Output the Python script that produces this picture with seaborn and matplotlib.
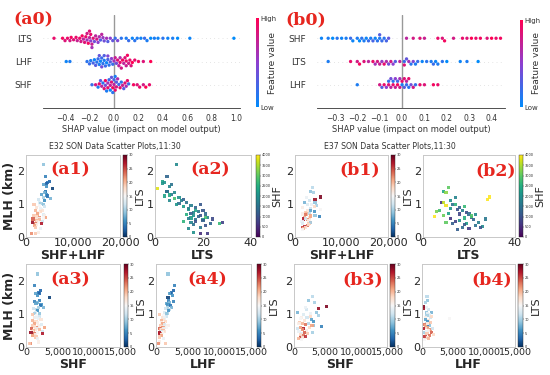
import numpy as np
import pandas as pd
import seaborn as sns
import matplotlib.pyplot as plt
from matplotlib.colors import LinearSegmentedColormap, Normalize
from matplotlib.cm import ScalarMappable

W, H = 550, 375
RED = "#e6261f"

e32_lts_shap = [-0.49, -0.42, -0.40, -0.38, -0.36, -0.35, -0.33, -0.31, -0.30, -0.28,
                -0.27, -0.26, -0.25, -0.24, -0.23, -0.22, -0.22, -0.21, -0.20, -0.20,
                -0.19, -0.19, -0.18, -0.18, -0.17, -0.16, -0.15, -0.14, -0.13, -0.12,
                -0.11, -0.10, -0.09, -0.08, -0.06, -0.05, -0.03, -0.01, 0.01, 0.03,
                0.06, 0.10, 0.12, 0.15, 0.17, 0.19, 0.22, 0.25, 0.27, 0.30,
                0.33, 0.36, 0.40, 0.44, 0.48, 0.52, 0.62, 0.98]
e32_lts_val = [0.9, 0.95, 0.85, 0.9, 0.8, 0.95, 0.85, 0.9, 0.75, 0.9,
               0.8, 0.95, 0.7, 0.85, 0.9, 0.6, 0.8, 0.95, 0.7, 0.85,
               0.5, 0.9, 0.75, 0.6, 0.85, 0.4, 0.7, 0.8, 0.5, 0.65,
               0.3, 0.7, 0.55, 0.4, 0.6, 0.3, 0.5, 0.35, 0.2, 0.45,
               0.15, 0.1, 0.2, 0.05, 0.15, 0.1, 0.05, 0.2, 0.1, 0.0,
               0.1, 0.05, 0.15, 0.05, 0.1, 0.0, 0.05, 0.0]
e32_lhf_shap = [-0.39, -0.36, -0.22, -0.20, -0.19, -0.17, -0.16, -0.15, -0.14, -0.13,
                -0.12, -0.12, -0.11, -0.10, -0.10, -0.09, -0.08, -0.08, -0.07, -0.06,
                -0.05, -0.05, -0.04, -0.03, -0.02, -0.01, 0.00, 0.01, 0.02, 0.03,
                0.04, 0.05, 0.05, 0.06, 0.07, 0.08, 0.09, 0.10, 0.10, 0.11,
                0.12, 0.13, 0.14, 0.15, 0.17, 0.20, 0.24, 0.30]
e32_lhf_val = [0.05, 0.1, 0.15, 0.2, 0.1, 0.25, 0.05, 0.3, 0.15, 0.2,
               0.1, 0.35, 0.05, 0.2, 0.4, 0.15, 0.1, 0.3, 0.2, 0.05,
               0.25, 0.45, 0.15, 0.3, 0.5, 0.2, 0.6, 0.75, 0.4, 0.85,
               0.7, 0.9, 0.65, 0.8, 0.95, 0.7, 0.85, 0.9, 0.75, 0.95,
               0.8, 0.9, 0.85, 1.0, 0.9, 0.95, 0.85, 1.0]
e32_shf_shap = [-0.18, -0.15, -0.13, -0.12, -0.11, -0.10, -0.09, -0.08, -0.07, -0.07,
                -0.06, -0.05, -0.05, -0.04, -0.03, -0.03, -0.02, -0.02, -0.01, -0.01,
                0.00, 0.00, 0.01, 0.01, 0.02, 0.02, 0.03, 0.04, 0.05, 0.06,
                0.07, 0.08, 0.09, 0.10, 0.11, 0.12, 0.16, 0.19, 0.21, 0.24,
                0.26, 0.29]
e32_shf_val = [0.2, 0.8, 0.1, 0.9, 0.3, 0.7, 0.15, 0.85, 0.4, 0.95,
               0.1, 0.6, 0.9, 0.2, 0.75, 0.05, 0.85, 0.35, 0.95, 0.15,
               0.7, 0.25, 0.9, 0.1, 0.8, 0.3, 0.65, 0.2, 0.9, 0.15,
               0.75, 0.3, 0.85, 0.6, 0.9, 0.2, 0.95, 0.85, 0.9, 0.8,
               1.0, 0.9]

e37_shf_shap = [-0.36, -0.33, -0.31, -0.29, -0.27, -0.25, -0.23, -0.22, -0.20, -0.19,
                -0.18, -0.17, -0.16, -0.15, -0.14, -0.13, -0.12, -0.11, -0.10, -0.10,
                -0.09, -0.08, -0.07, -0.06, 0.02, 0.05, 0.08, 0.10, 0.16, 0.18,
                0.19, 0.23, 0.27, 0.29, 0.31, 0.33, 0.35, 0.38, 0.40, 0.42,
                0.44]
e37_shf_val = [0.05, 0.1, 0.0, 0.15, 0.05, 0.1, 0.2, 0.05, 0.1, 0.0,
               0.15, 0.1, 0.05, 0.2, 0.1, 0.25, 0.05, 0.15, 0.1, 0.3,
               0.2, 0.15, 0.25, 0.35, 0.7, 0.8, 0.85, 0.75, 0.9, 0.85,
               0.95, 0.8, 0.9, 0.85, 1.0, 0.9, 0.95, 0.85, 1.0, 0.9,
               0.95]
e37_lts_shap = [-0.33, -0.23, -0.20, -0.19, -0.17, -0.15, -0.13, -0.12, -0.11, -0.10,
                -0.09, -0.08, -0.07, -0.06, -0.05, -0.04, -0.03, -0.01, 0.01, 0.01,
                0.02, 0.03, 0.04, 0.05, 0.06, 0.07, 0.09, 0.11, 0.13, 0.14,
                0.15, 0.16, 0.18, 0.20, 0.26, 0.29, 0.34]
e37_lts_val = [0.1, 0.9, 0.8, 0.95, 0.85, 0.7, 0.9, 0.6, 0.8, 0.75,
               0.55, 0.9, 0.65, 0.4, 0.8, 0.5, 0.3, 0.7, 0.2, 0.85,
               0.35, 0.6, 0.15, 0.45, 0.1, 0.2, 0.05, 0.15, 0.1, 0.2,
               0.05, 0.1, 0.15, 0.0, 0.05, 0.1, 0.0]
e37_lhf_shap = [-0.20, -0.10, -0.09, -0.08, -0.07, -0.06, -0.06, -0.05, -0.05, -0.04,
                -0.04, -0.03, -0.03, -0.02, -0.02, -0.01, -0.01, 0.00, 0.00, 0.01,
                0.01, 0.02, 0.02, 0.03, 0.03, 0.04, 0.05, 0.06, 0.08, 0.10,
                0.14, 0.16]
e37_lhf_val = [0.1, 0.8, 0.3, 0.9, 0.5, 0.85, 0.2, 0.7, 0.4, 0.9,
               0.15, 0.75, 0.5, 0.95, 0.25, 0.8, 0.6, 0.1, 0.9, 0.3,
               0.85, 0.2, 0.7, 0.15, 0.9, 0.4, 0.8, 0.2, 0.9, 0.85,
               0.95, 0.9]

# scatter data, E32 and E37 (MLH km, SHF, LHF, LTS)
e32_mlh = [2.20, 1.85, 1.70, 1.65, 1.62, 1.60, 1.55, 1.48, 1.40, 1.38,
           1.35, 1.30, 1.28, 1.25, 1.20, 1.18, 1.15, 1.12, 1.10, 1.05,
           1.02, 1.00, 0.98, 0.95, 0.92, 0.90, 0.88, 0.85, 0.82, 0.80,
           0.78, 0.75, 0.72, 0.70, 0.68, 0.66, 0.65, 0.62, 0.60, 0.60,
           0.58, 0.57, 0.55, 0.53, 0.52, 0.50, 0.48, 0.47, 0.45, 0.43,
           0.42, 0.40, 0.38, 0.35, 0.30, 0.25, 0.15, 0.10, 0.10]
e32_shf = [1900, 1300, 2300, 2000, 2100, 1500, 1800, 3800, 2200, 1400,
           1900, 1600, 2400, 2300, 2000, 2800, 1200, 1700, 1900, 1500,
           1400, 2100, 1100, 1700, 2200, 1300, 1600, 2000, 2400, 1100,
           1600, 1900, 1200, 1400, 2500, 2000, 1000, 1300, 1800, 2900,
           2200, 1700, 900, 2100, 1500, 1200, 2600, 1000, 800, 1800,
           1300, 2700, 1500, 1000, 1600, 1900, 2000, 700, 500]
e32_lhf = [1900, 2900, 2700, 2500, 2300, 2200, 2600, 1900, 2000, 2800,
           2100, 1700, 1900, 2300, 1800, 2500, 1500, 2200, 2000, 1400,
           1800, 1600, 600, 1200, 1700, 1000, 1400, 1300, 1100, 900,
           1500, 800, 1300, 1100, 1300, 1900, 700, 900, 1000, 1300,
           1600, 1200, 600, 700, 800, 1100, 900, 1400, 500, 1000,
           700, 600, 800, 900, 500, 1200, 600, 400, 1500]
e32_lts = [9, 5, 3, 4, 3, 7, 6, 1, 5, 5,
           8, 7, 6, 4, 10, 8, 12, 11, 6, 13,
           10, 9, 19, 15, 12, 17, 14, 14, 17, 20,
           18, 16, 15, 21, 13, 16, 19, 18, 22, 21,
           15, 14, 24, 20, 17, 20, 12, 17, 28, 15,
           23, 27, 16, 21, 19, 14, 16, 22, 19]

e37_mlh = [1.52, 1.40, 1.35, 1.22, 1.15, 1.12, 1.05, 1.05, 1.00, 0.98,
           0.95, 0.90, 0.88, 0.85, 0.82, 0.80, 0.78, 0.75, 0.72, 0.70,
           0.68, 0.65, 0.62, 0.60, 0.58, 0.55, 0.52, 0.50, 0.48, 0.45,
           0.42, 0.40, 0.35, 0.32, 0.30, 0.28, 0.25, 0.22, 1.20, 0.92,
           0.64, 0.57, 0.45, 0.38, 0.70]
e37_shf = [3000, 2400, 3300, 5200, 4000, 2000, 600, 3600, 2600, 1500,
           3900, 1200, 2100, 1000, 2800, 1700, 3200, 900, 2300, 1400,
           1900, 3100, 4500, 1100, 2500, 1600, 1300, 2000, 800, 1700,
           1200, 2200, 1500, 1900, 1000, 1400, 700, 1200, 1800, 2700,
           2900, 600, 3000, 1100, 800]
e37_lhf = [800, 900, 600, 250, 300, 1100, 1500, 700, 900, 1200,
           800, 500, 1300, 4500, 600, 1000, 900, 1400, 700, 1100,
           400, 1200, 800, 900, 600, 300, 1300, 1000, 700, 1600,
           500, 800, 1200, 200, 600, 900, 1100, 400, 700, 1500,
           500, 1700, 300, 1800, 900]
e37_lts = [11, 9, 10, 29, 28, 12, 8, 9, 14, 13,
           10, 16, 12, 15, 7, 17, 6, 19, 11, 20,
           23, 9, 5, 21, 18, 27, 22, 16, 14, 24,
           13, 19, 23, 26, 25, 17, 20, 15, 14, 18,
           21, 12, 10, 18, 16]

flux_ticks = [0, 10000, 20000]
flux_labels = ["0", "10,000", "20,000"]
single_ticks = [0, 5000, 10000, 15000]
single_labels = ["0", "5,000", "10,000", "15,000"]
lts_ticks = [0, 20, 40]

sns.set_style("white")
plt.rcParams["font.family"] = ["DejaVu Sans"]

shap_cmap = LinearSegmentedColormap.from_list("shap", ["#008bfb", "#8e3fcf", "#ff0052"])

fig = plt.figure(figsize=(W / 100, H / 100), dpi=100)


def add_px(l, t, r, b):
    return fig.add_axes([l / W, 1 - b / H, (r - l) / W, (b - t) / H])


def tag(x, y, s):
    fig.text(x / W, 1 - y / H, s, color=RED, fontsize=12.5, fontweight="bold",
             family="DejaVu Serif", ha="center", va="center")


def shap_panel(box, cbox, feats, shaps, vals, xlim, xticks):
    ax = add_px(*box)
    df = pd.concat([pd.DataFrame({"feature": f, "shap": s, "value": v})
                    for f, s, v in zip(feats, shaps, vals)], ignore_index=True)
    sns.swarmplot(data=df, x="shap", y="feature", hue="value", order=feats,
                  palette=shap_cmap, hue_norm=(0, 1), size=2.4, linewidth=0,
                  legend=False, ax=ax)
    ax.axvline(0, color="#999999", lw=1, zorder=-1)
    for i in range(len(feats)):
        ax.axhline(i, color="#cccccc", lw=0.5, dashes=(1, 5), zorder=-1)
    ax.set_xlim(*xlim)
    ax.set_ylim(3, -1)
    ax.set_xticks(xticks)
    ax.set_xticklabels([f"{t:.1f}".replace("-", "\u2212") for t in xticks])
    ax.set_xlabel("SHAP value (impact on model output)", fontsize=6, color="#333333", labelpad=1.5)
    ax.set_ylabel("")
    for sp in ["top", "right", "left"]:
        ax.spines[sp].set_visible(False)
    ax.spines["bottom"].set_color("#333333")
    ax.spines["bottom"].set_linewidth(0.6)
    ax.tick_params(axis="x", labelsize=5.5, length=2.5, width=0.5, pad=1.5, colors="#333333")
    ax.tick_params(axis="y", labelsize=6.5, length=0, pad=8, colors="#333333")
    cax = add_px(*cbox)
    cb = fig.colorbar(ScalarMappable(Normalize(0, 1), shap_cmap), cax=cax, ticks=[0, 1])
    cb.set_ticklabels(["Low", "High"])
    cb.outline.set_visible(False)
    cb.ax.tick_params(labelsize=5, length=0, pad=1.5, colors="#333333")
    cb.set_label("Feature value", fontsize=6.5, color="#333333", labelpad=-6)


def scatter_panel(box, cbox, x, y, c, cmap, vmax, cticks, xmax, xticks, xlabels,
                  xlabel, ylabel=None, clabel=None, xsize=8):
    ax = add_px(*box)
    df = pd.DataFrame({"x": x, "y": y, "c": c})
    sns.scatterplot(data=df, x="x", y="y", hue="c", palette=cmap, hue_norm=(0, vmax),
                    marker="s", s=5, linewidth=0, alpha=0.9, legend=False, ax=ax)
    ax.set_xlim(0, xmax)
    ax.set_ylim(0, 2.5)
    ax.set_xticks(xticks)
    ax.set_xticklabels(xlabels)
    ax.set_yticks([0, 1, 2])
    ax.set_yticklabels(["0", "1", "2"])
    ax.tick_params(labelsize=8, length=0, pad=1)
    ax.tick_params(axis="x", labelsize=xsize)
    for sp in ax.spines.values():
        sp.set_color("#c8c8c8")
        sp.set_linewidth(0.7)
    ax.set_xlabel(xlabel, fontsize=9, fontweight="bold", labelpad=0.5)
    if ylabel == "MLH (km)":
        ax.set_ylabel(ylabel, fontsize=9, fontweight="bold", labelpad=1)
    elif ylabel:
        ax.set_ylabel(ylabel, fontsize=8, labelpad=1)
    else:
        ax.set_ylabel("")
    cax = add_px(*cbox)
    cb = fig.colorbar(ScalarMappable(Normalize(0, vmax), cmap), cax=cax, ticks=cticks)
    cb.outline.set_linewidth(0.3)
    cb.ax.tick_params(labelsize=2.5, length=1, width=0.3, pad=0.5)
    if clabel:
        cb.set_label(clabel, fontsize=8, labelpad=1)
    return ax


# top row: SHAP summaries
shap_panel((43, 15, 240, 108), (256, 18, 258.5, 107), ["LTS", "LHF", "SHF"],
           [e32_lts_shap, e32_lhf_shap, e32_shf_shap],
           [e32_lts_val, e32_lhf_val, e32_shf_val],
           (-0.58, 1.03), [-0.4, -0.2, 0.0, 0.2, 0.4, 0.6, 0.8, 1.0])
shap_panel((317, 15, 505, 108), (520, 20, 522.5, 107), ["SHF", "LTS", "LHF"],
           [e37_shf_shap, e37_lts_shap, e37_lhf_shap],
           [e37_shf_val, e37_lts_val, e37_lhf_val],
           (-0.38, 0.46), [-0.3, -0.2, -0.1, 0.0, 0.1, 0.2, 0.3, 0.4])

# scatter panels
e32_sum = [a + b for a, b in zip(e32_shf, e32_lhf)]
e37_sum = [a + b for a, b in zip(e37_shf, e37_lhf)]
rdbu_ticks = [0, 5, 10, 15, 20, 25, 30]
vir_ticks = list(range(0, 4001, 500))

scatter_panel((26, 155, 120, 237), (123, 155, 127, 237), e32_sum, e32_mlh, e32_lts,
              "RdBu_r", 30, rdbu_ticks, 20000, flux_ticks, flux_labels, "SHF+LHF", "MLH (km)")
scatter_panel((155, 155, 251, 237), (256, 155, 260, 237), e32_lts, e32_mlh, e32_shf,
              "viridis", 4000, vir_ticks, 40, lts_ticks, ["0", "20", "40"], "LTS", "LTS", "SHF")
scatter_panel((295, 155, 388, 237), (391, 155, 395, 237), e37_sum, e37_mlh, e37_lts,
              "RdBu_r", 30, rdbu_ticks, 20000, flux_ticks, flux_labels, "SHF+LHF")
scatter_panel((423, 155, 515, 237), (519, 155, 523, 237), e37_lts, e37_mlh, e37_shf,
              "viridis", 4000, vir_ticks, 40, lts_ticks, ["0", "20", "40"], "LTS", "LTS", "SHF")

scatter_panel((26, 264, 120, 347), (124, 264, 128, 347), e32_shf, e32_mlh, e32_lts,
              "RdBu_r", 30, rdbu_ticks, 15000, single_ticks, single_labels, "SHF", "MLH (km)", "LTS", 6.8)
scatter_panel((156, 264, 251, 347), (257, 264, 261, 347), e32_lhf, e32_mlh, e32_lts,
              "RdBu_r", 30, rdbu_ticks, 15000, single_ticks, single_labels, "LHF", None, "LTS", 6.8)
scatter_panel((294, 264, 387, 347), (390, 264, 395, 347), e37_shf, e37_mlh, e37_lts,
              "RdBu_r", 30, rdbu_ticks, 15000, single_ticks, single_labels, "SHF", None, "LTS", 6.8)
scatter_panel((422, 264, 515, 347), (518, 264, 523, 347), e37_lhf, e37_mlh, e37_lts,
              "RdBu_r", 30, rdbu_ticks, 15000, single_ticks, single_labels, "LHF", None, "LTS", 6.8)

fig.text(115 / W, 1 - 146 / H, "E32 SON Data Scatter Plots,11:30", fontsize=5.6,
         color="#333333", ha="center", va="center")
fig.text(390 / W, 1 - 146 / H, "E37 SON Data Scatter Plots,11:30", fontsize=5.6,
         color="#333333", ha="center", va="center")

tag(33, 20, "(a0)")
tag(306, 20, "(b0)")
tag(70, 170, "(a1)")
tag(210, 170, "(a2)")
tag(360, 170, "(b1)")
tag(496, 171, "(b2)")
tag(70, 280, "(a3)")
tag(207, 280, "(a4)")
tag(363, 280, "(b3)")
tag(492, 280, "(b4)")

fig.savefig("out.png", dpi=100)
